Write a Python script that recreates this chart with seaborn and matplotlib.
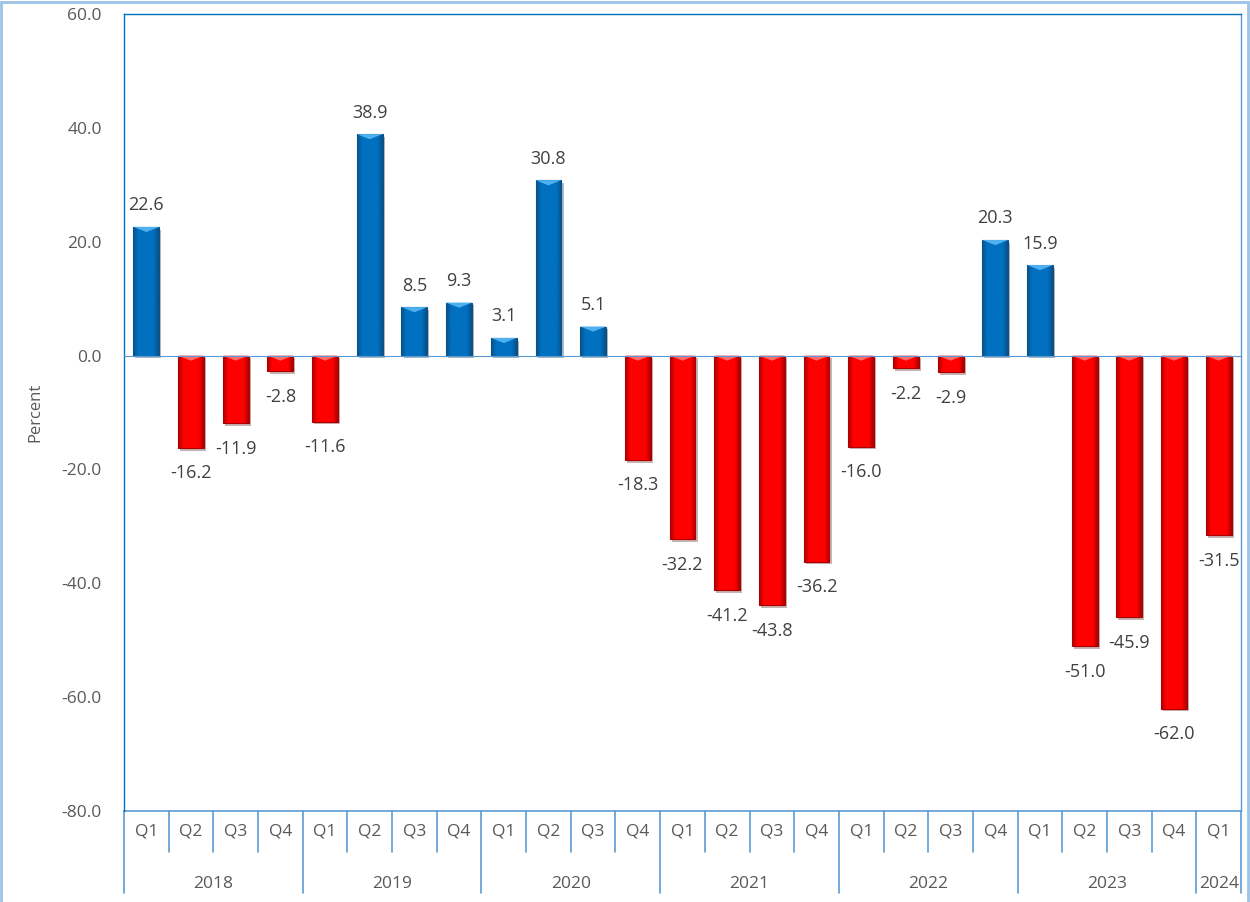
import numpy as np
import pandas as pd
import matplotlib
matplotlib.use("Agg")
import matplotlib.pyplot as plt
import matplotlib.patheffects as pe
from matplotlib.colors import LinearSegmentedColormap
from matplotlib.patches import Polygon, Rectangle
import matplotlib.transforms as mtrans
import seaborn as sns

# data
years = ["2018", "2019", "2020", "2021", "2022", "2023", "2024"]
quarters_per_year = [4, 4, 4, 4, 4, 4, 1]
values = [22.6, -16.2, -11.9, -2.8,
          -11.6, 38.9, 8.5, 9.3,
          3.1, 30.8, 5.1, -18.3,
          -32.2, -41.2, -43.8, -36.2,
          -16.0, -2.2, -2.9, 20.3,
          15.9, -51.0, -45.9, -62.0,
          -31.5]
y_ticks = [-80, -60, -40, -20, 0, 20, 40, 60]

labels, qnames = [], []
for yr, n in zip(years, quarters_per_year):
    for q in range(n):
        labels.append(f"{yr} Q{q + 1}")
        qnames.append(f"Q{q + 1}")

df = pd.DataFrame({"label": labels, "value": values})
df["sign"] = np.where(df["value"] >= 0, "pos", "neg")

BLUE, RED = "#0070C0", "#FF0000"
BASE = {"pos": BLUE, "neg": RED}
DARK = {"pos": "#0B4F86", "neg": "#A80000"}
LIGHT = {"pos": "#4FB0F0", "neg": "#FF6A6A"}
AXIS_BLUE = "#5B9BD5"
TEXT = "#595959"

sns.set_style("white")
plt.rcParams["font.family"] = ["Open Sans", "DejaVu Sans"]

fig = plt.figure(figsize=(12.5, 9.02), dpi=100)
ax = fig.add_axes([0.0992, 0.1009, 0.8936, 0.8836])

sns.barplot(data=df, x="label", y="value", hue="sign", order=labels,
            palette=BASE, dodge=False, width=0.58,
            legend=False, ax=ax, zorder=3)

ax.set_ylim(-80, 60)
ax.set_xlim(-0.5, len(labels) - 0.5)

# bevel look for each bar (patches come grouped by hue, so match by position)
for patch in list(ax.patches):
    w, h = patch.get_width(), patch.get_height()
    if h == 0 or np.isnan(h):
        continue
    x0, y0 = patch.get_x(), patch.get_y()
    idx = int(round(x0 + w / 2))
    sign = df["sign"].iloc[idx]
    base = BASE[sign]
    patch.set_facecolor(base)
    patch.set_edgecolor(DARK[sign])
    patch.set_linewidth(0.8)
    patch.set_path_effects([pe.SimplePatchShadow(offset=(1.5, -2), alpha=0.3),
                            pe.Normal()])
    cmap = LinearSegmentedColormap.from_list(
        "bev", [DARK[sign], base, base, base, base, DARK[sign]])
    grad = np.linspace(0, 1, 64).reshape(1, -1)
    top, bot = max(y0, y0 + h), min(y0, y0 + h)
    im = ax.imshow(grad, cmap=cmap, aspect="auto",
                   extent=(x0, x0 + w, bot, top), zorder=3.1)
    im.set_clip_path(patch)
    tri_h = min(0.9, (top - bot))
    tri = Polygon([(x0, top), (x0 + w, top), (x0 + w / 2, top - tri_h)],
                  closed=True, facecolor=LIGHT[sign], edgecolor="none",
                  zorder=3.2)
    ax.add_patch(tri)

# data labels
for i, v in enumerate(values):
    off = 9 if v >= 0 else -12
    ax.annotate(f"{v:.1f}", (i, v), xytext=(0, off), textcoords="offset points",
                ha="center", va="bottom" if v >= 0 else "top",
                fontsize=13, color="#404040", zorder=5)

# y axis
ax.set_yticks(y_ticks)
ax.set_yticklabels([f"{t:.1f}" for t in y_ticks])
ax.tick_params(axis="y", length=0, pad=16, labelsize=12.5, labelcolor=TEXT)
ax.set_ylabel("Percent", fontsize=12, color=TEXT, labelpad=13)
ax.set_xlabel("")

# spines / frame
for s in ["left", "top", "right"]:
    ax.spines[s].set_color(AXIS_BLUE)
    ax.spines[s].set_linewidth(1.0)
ax.spines["left"].set_color("#0070C0")
ax.spines["top"].set_color("#0070C0")
ax.spines["bottom"].set_position(("data", 0))
ax.spines["bottom"].set_color(AXIS_BLUE)
ax.spines["bottom"].set_zorder(4)
ax.set_xticks(np.arange(len(labels) - 1) + 0.5)
ax.set_xticklabels([])
ax.tick_params(axis="x", direction="out", length=5, width=1, color=AXIS_BLUE)
ax.axhline(-80, color=AXIS_BLUE, lw=1.2, clip_on=False)

# multi-level category axis
trans = mtrans.blended_transform_factory(ax.transData, ax.transAxes)
q_drop, y_drop = -0.0514, -0.103
for i, q in enumerate(qnames):
    ax.text(i, -0.026, q, transform=trans, ha="center", va="center",
            fontsize=12.5, color=TEXT)
bounds = np.cumsum([0] + quarters_per_year) - 0.5
for b in np.arange(len(labels) + 1) - 0.5:
    bottom = y_drop if b in bounds else q_drop
    ax.plot([b, b], [0, bottom], transform=trans, color=AXIS_BLUE, lw=1.2,
            clip_on=False)
for yr, a, b in zip(years, bounds[:-1], bounds[1:]):
    ax.text((a + b) / 2, -0.091, yr, transform=trans, ha="center", va="center",
            fontsize=12.5, color=TEXT)

# chart area border
fig.patches.append(Rectangle((0.001, -0.01), 0.997, 1.008, transform=fig.transFigure,
                             fill=False, edgecolor="#9DC3E6", lw=2))

fig.savefig("out.png", dpi=100)
